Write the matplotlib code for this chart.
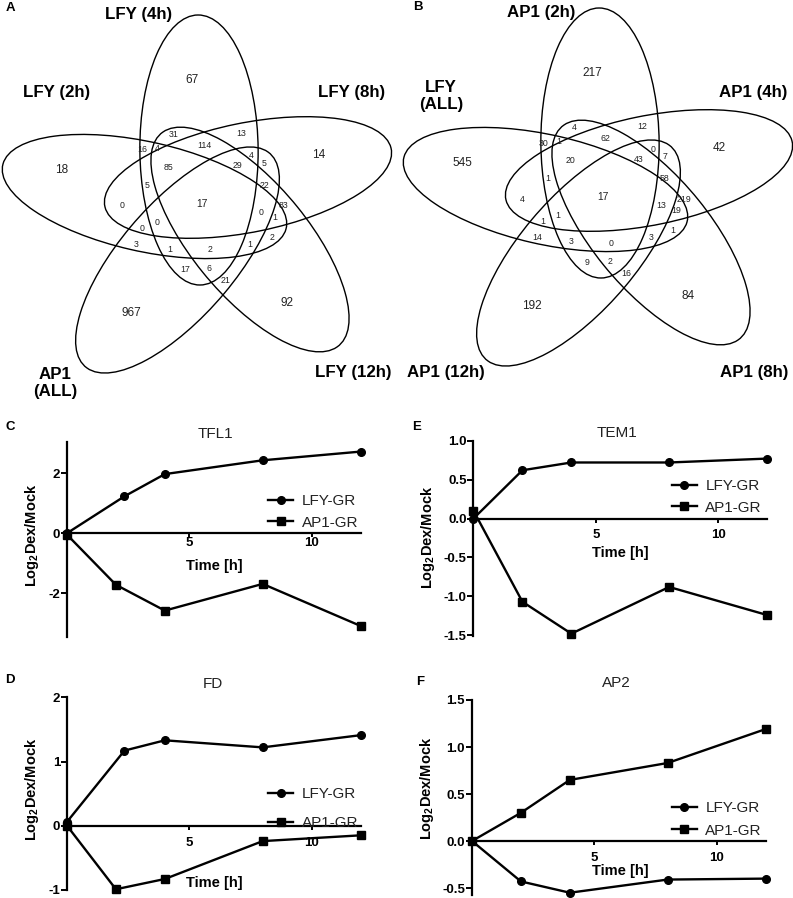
import numpy as np
import matplotlib
matplotlib.use('Agg')
import matplotlib.pyplot as plt
from matplotlib.patches import Ellipse
from matplotlib.transforms import Affine2D
from matplotlib.ticker import FormatStrFormatter

plt.rcParams['font.family'] = ['Liberation Sans', 'DejaVu Sans']
plt.rcParams['mathtext.fontset'] = 'custom'
plt.rcParams['mathtext.rm'] = 'Liberation Sans'
plt.rcParams['mathtext.bf'] = 'Liberation Sans:bold'
plt.rcParams['axes.unicode_minus'] = False

W, H = 793, 898

# ---------------- Venn data ----------------
# set order: top, right, lower-right, lower-left, left
sets_A = ['LFY (4h)', 'LFY (8h)', 'LFY (12h)', 'AP1\n(ALL)', 'LFY (2h)']
sets_B = ['AP1 (2h)', 'AP1 (4h)', 'AP1 (8h)', 'AP1 (12h)', 'LFY\n(ALL)']

# region counts: 5 outer regions, the centre, then the inner regions
counts_A = [67, 14, 92, 967, 18, 17,
            31, 13, 114, 16, 4, 4, 5, 85, 29, 5, 22, 0, 83, 0, 1, 0, 0, 2,
            3, 1, 2, 1, 17, 6, 21]
counts_B = [217, 42, 84, 192, 545, 17,
            4, 12, 62, 30, 1, 0, 7, 20, 43, 1, 58, 4, 219, 13, 19, 1, 1, 1,
            14, 3, 0, 3, 9, 2, 16]

# ---------------- time courses ----------------
time = [0, 2, 4, 8, 12]
time_lfy_cd = [0, 2.35, 4, 8, 12]

tfl1_lfy = [0.0, 1.23, 1.97, 2.43, 2.72]
tfl1_ap1 = [-0.05, -1.72, -2.58, -1.69, -3.09]
tem1_lfy = [0.0, 0.62, 0.72, 0.72, 0.77]
tem1_ap1 = [0.10, -1.07, -1.48, -0.88, -1.24]
fd_lfy = [0.06, 1.17, 1.33, 1.22, 1.41]
fd_ap1 = [0.0, -0.99, -0.83, -0.24, -0.15]
ap2_lfy = [0.0, -0.43, -0.55, -0.41, -0.40]
ap2_ap1 = [0.0, 0.30, 0.65, 0.83, 1.19]

# ---------------- layout (pixels) ----------------
ell_far = [(198, 15), (391, 148), (337, 347), (87, 368), (3, 164)]
ell_near = [(200, 285), (105, 207), (163, 132), (268, 152), (286, 229)]
stretch, half_minor = 1.085, 54.5
offset_B = (401, -7)
region_pos = [(191.7, 80), (318.3, 155), (287.3, 302.7), (131, 313.3), (61.7, 170),
              (201.7, 204),
              (173.3, 134.3), (241.7, 133.3), (204.3, 145.7), (142.7, 150),
              (157.7, 148.7), (251.7, 156), (264.3, 163.3), (169, 167.3),
              (237.3, 166), (146.7, 185.7), (264, 185.3), (121.7, 206),
              (283.3, 206), (260.7, 212.7), (275, 217.3), (156.7, 222.7),
              (141.7, 228.3), (271.7, 237.3), (136, 244.3), (170, 249),
              (210, 250), (250, 244.7), (185.7, 269.3), (209, 268.3),
              (225.7, 280.3)]
label_pos_A = [(139, 14), (352, 93), (353, 373), (55, 383), (57, 93)]
label_pos_B = [(541, 12), (753, 92), (754, 373), (446, 373), (441, 96)]

fig = plt.figure(figsize=(W / 100, H / 100), dpi=100)
bg = fig.add_axes([0, 0, 1, 1], zorder=5)
bg.set_xlim(0, W)
bg.set_ylim(H, 0)
bg.axis('off')
bg.patch.set_visible(False)

stretch_tr = Affine2D().scale(stretch, 1) + bg.transData


def draw_venn(counts, names, name_pos, dx, dy):
    for (fx, fy), (nx, ny) in zip(ell_far, ell_near):
        fx, nx = (fx + dx) / stretch, (nx + dx) / stretch
        fy, ny = fy + dy, ny + dy
        length = np.hypot(fx - nx, fy - ny)
        ang = np.degrees(np.arctan2(fy - ny, fx - nx))
        bg.add_patch(Ellipse(((fx + nx) / 2, (fy + ny) / 2), length, 2 * half_minor,
                             angle=ang, fill=False, ec='k', lw=1.0,
                             transform=stretch_tr))
    for i, (c, (x, y)) in enumerate(zip(counts, region_pos)):
        fs = 8.5 if i < 5 else (7.4 if i == 5 else 6.3)
        bg.text(x + dx, y + dy, str(c), ha='center', va='center', fontsize=fs,
                color='#222222')
    for name, (x, y) in zip(names, name_pos):
        bg.text(x, y, name, ha='center', va='center', fontsize=12.2,
                fontweight='bold', linespacing=1.2)


draw_venn(counts_A, sets_A, label_pos_A, 0, 0)
draw_venn(counts_B, sets_B, label_pos_B, *offset_B)

for letter, (x, y) in zip('ABCEDF', [(10, 8), (418, 7), (10, 427), (417, 427),
                                     (10, 680), (420, 682)]):
    bg.text(x, y, letter, ha='center', va='center', fontsize=9.5, fontweight='bold')


def line_panel(box, ylim, yticks, fmt, title, title_pos, t_lfy, lfy, ap1,
               leg_pos, leg_space, xlab_pos, ylab_pos, xpad):
    x0, x1, yt, yb = box
    ax = fig.add_axes([x0 / W, 1 - yb / H, (x1 - x0) / W, (yb - yt) / H])
    ax.patch.set_visible(False)
    ax.plot(t_lfy, lfy, '-o', color='k', lw=1.7, ms=5.5, clip_on=False,
            label='LFY-GR', zorder=4)
    ax.plot(time, ap1, '-s', color='k', lw=1.7, ms=5.5, clip_on=False,
            label='AP1-GR', zorder=4)
    ax.set_xlim(0, 12)
    ax.set_ylim(*ylim)
    for s in ['top', 'right']:
        ax.spines[s].set_visible(False)
    ax.spines['bottom'].set_position(('data', 0))
    ax.spines['left'].set_linewidth(1.6)
    ax.spines['bottom'].set_linewidth(1.6)
    ax.set_xticks([5, 10])
    ax.set_yticks(yticks)
    if fmt:
        ax.yaxis.set_major_formatter(FormatStrFormatter(fmt))
    ax.tick_params(axis='y', length=4, width=1.4, labelsize=9.5, pad=1)
    ax.tick_params(axis='x', length=3, width=1.4, labelsize=9.5, pad=xpad)
    for lab in ax.get_xticklabels() + ax.get_yticklabels():
        lab.set_fontweight('bold')
    to_ax = lambda px, py: ((px - x0) / (x1 - x0), (yb - py) / (yb - yt))
    ax.set_xlabel('Time [h]', fontsize=10.5, fontweight='bold')
    ax.xaxis.set_label_coords(*to_ax(*xlab_pos))
    ax.xaxis.label.set_va('center')
    ax.set_ylabel(r'Log$_\mathbf{2}$Dex/Mock', fontsize=10.5, fontweight='bold')
    ax.yaxis.set_label_coords(*to_ax(*ylab_pos))
    ax.yaxis.label.set_va('center')
    fig.text(title_pos[0] / W, 1 - title_pos[1] / H, title, ha='center',
             va='center', fontsize=11, color='#222222')
    ax.legend(loc='center left', bbox_to_anchor=(leg_pos[0] / W, 1 - leg_pos[1] / H),
              bbox_transform=fig.transFigure, frameon=False, fontsize=11,
              handlelength=1.65, handletextpad=0.55, labelspacing=leg_space,
              borderpad=0, borderaxespad=0, labelcolor='#222222')
    return ax


line_panel((67, 360.5, 441.7, 636.7), (-3.45, 3.05), [-2, 0, 2], None,
           'TFL1', (215, 434), time_lfy_cd, tfl1_lfy, tfl1_ap1,
           (268, 511.7), 0.5, (214, 565.7), (31.7, 535), 0)
line_panel((473.5, 767, 440.7, 636), (-1.51, 1.0), [-1.5, -1.0, -0.5, 0, 0.5, 1.0],
           '%.1f', 'TEM1', (617, 433), time, tem1_lfy, tem1_ap1,
           (671.7, 496.7), 0.5, (620, 552.5), (428.3, 537), 4.5)
line_panel((67, 360.5, 697.3, 889.9), (-1.0, 2.0), [-1, 0, 1, 2], None,
           'FD', (212.5, 684), time_lfy_cd, fd_lfy, fd_ap1,
           (268, 808.8), 1.0, (214, 882.7), (31.7, 789), 5)
line_panel((472, 765.5, 700, 894.6), (-0.57, 1.5), [-0.5, 0, 0.5, 1.0, 1.5],
           '%.1f', 'AP2', (616.7, 683.3), time, ap2_lfy, ap2_ap1,
           (671.7, 819.5), 0.55, (620, 871.5), (426.7, 788), 5)

fig.savefig('out.png', dpi=100)
